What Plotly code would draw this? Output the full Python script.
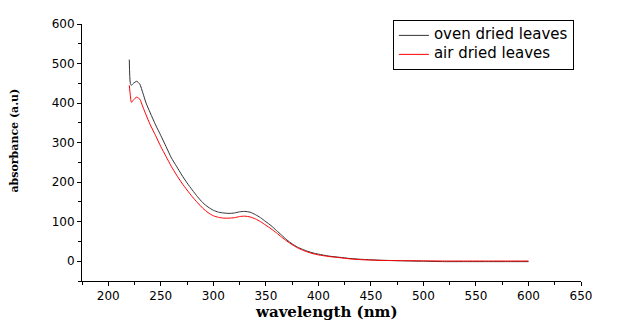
import plotly.graph_objects as go

wavelength = [220, 221, 222, 224, 227, 230, 233, 236, 240, 245, 250, 255, 260, 265, 270, 275,
              280, 285, 290, 295, 300, 305, 310, 315, 320, 325, 330, 335, 340, 345, 350, 355,
              360, 365, 370, 375, 380, 385, 390, 395, 400, 410, 420, 430, 440, 450, 460, 480,
              500, 520, 540, 560, 580, 600]

oven_dried = [510, 450, 445, 450, 455, 448, 425, 400, 375, 345, 318, 290, 262, 240, 218, 198,
              180, 163, 148, 137, 129, 124, 122, 121, 122, 125, 126, 124, 118, 110, 100, 90,
              78, 66, 54, 44, 36, 30, 25, 21, 18, 13, 10, 7, 5, 3.5, 2.5, 1.0,
              0, -1, -1, -1, -1, -1]

air_dried = [445, 420, 402, 408, 415, 410, 390, 370, 345, 318, 290, 265, 240, 218, 198, 180,
             163, 148, 134, 123, 115, 111, 109, 109, 110, 113, 114, 112, 107, 100, 91, 82,
             72, 61, 51, 42, 34, 28, 23, 19, 16, 12, 9, 6, 4, 3, 2, 1.5,
             1, 0.5, 0.5, 0.5, 0.5, 0.5]

series_names = ["oven dried leaves", "air dried leaves"]
x_ticks = [200, 250, 300, 350, 400, 450, 500, 550, 600, 650]
y_ticks = [0, 100, 200, 300, 400, 500, 600]

def legend_name(s):
    return '<span style="font-size:15px">' + s + '</span>'

fig = go.Figure()
fig.add_trace(go.Scatter(x=wavelength, y=oven_dried, mode="lines", name=legend_name(series_names[0]),
                         line=dict(color="#333333", width=1, shape="spline", smoothing=0.6)))
fig.add_trace(go.Scatter(x=wavelength, y=air_dried, mode="lines", name=legend_name(series_names[1]),
                         line=dict(color="#ff0000", width=1, shape="spline", smoothing=0.6)))

tickfont = dict(family="DejaVu Sans", size=12, color="black")
fig.update_layout(
    width=617, height=323,
    margin=dict(l=82, r=36, t=24, b=42),
    paper_bgcolor="white", plot_bgcolor="white",
    showlegend=True,
    legend=dict(x=0.623, y=1.016, xanchor="left", yanchor="top",
                bordercolor="black", borderwidth=1, bgcolor="white",
                font=dict(family="DejaVu Sans", size=10, color="black"),
                tracegroupgap=0, itemwidth=30),
    xaxis=dict(range=[175, 650], tickvals=x_ticks, ticks="outside", ticklen=4, tickwidth=1,
               tickcolor="black", showline=True, linecolor="black", linewidth=1,
               showgrid=False, zeroline=False, tickfont=tickfont, automargin=False,
               minor=dict(dtick=25, tick0=175, ticks="outside", ticklen=3, tickcolor="black", showgrid=False)),
    yaxis=dict(range=[-50, 600], tickvals=y_ticks, ticks="outside", ticklen=4, tickwidth=1,
               tickcolor="black", showline=True, linecolor="black", linewidth=1,
               showgrid=False, zeroline=False, tickfont=tickfont, automargin=False,
               minor=dict(dtick=50, tick0=-50, ticks="outside", ticklen=3, tickcolor="black", showgrid=False)),
    annotations=[
        dict(text="<b>wavelength (nm)</b>", xref="paper", yref="paper",
             x=(326 - 82) / 499, y=-0.122, xanchor="center", yanchor="middle", showarrow=False,
             font=dict(family="DejaVu Serif", size=15, color="black")),
        dict(text="<b>absorbance (a.u)</b>", textangle=-90, xref="paper", yref="paper",
             x=-0.135, y=0.545, xanchor="center", yanchor="middle", showarrow=False,
             font=dict(family="DejaVu Serif", size=11, color="black")),
    ],
)

fig.write_html("out.html", config={"responsive": False, "displayModeBar": False},
               post_script="document.body.style.margin='0';document.body.style.overflow='hidden';")
